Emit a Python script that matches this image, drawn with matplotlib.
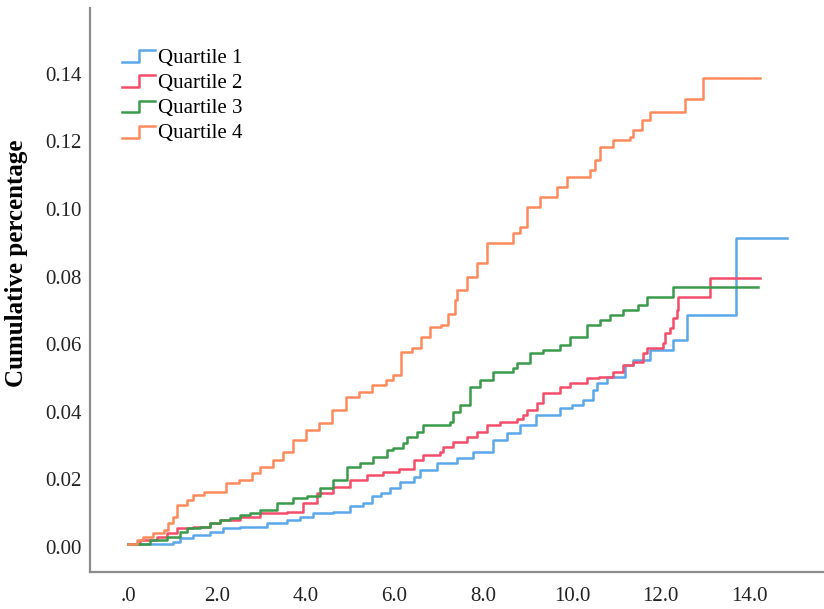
import matplotlib.pyplot as plt
from matplotlib.lines import Line2D
from matplotlib.legend_handler import HandlerBase

# Quartile 1 (blue)
q1_t = [0, 1.0, 1.17, 1.47, 1.85, 2.14, 2.52, 3.13, 3.58, 3.87, 4.17, 4.62, 5.0, 5.3, 5.5,
        5.7, 5.9, 6.13, 6.43, 6.58, 6.96, 7.4, 7.77, 8.22, 8.53, 8.83, 9.2, 9.73, 10.0,
        10.25, 10.48, 10.56, 10.78, 11.2, 11.38, 11.76, 12.27, 12.6, 13.7, 14.84]
q1_v = [0.001, 0.0015, 0.0027, 0.0036, 0.0044, 0.0056, 0.006, 0.007, 0.008, 0.009, 0.010,
        0.0104, 0.012, 0.013, 0.015, 0.016, 0.0175, 0.0193, 0.0207, 0.0228, 0.0248, 0.0263,
        0.0281, 0.0317, 0.0337, 0.036, 0.039, 0.041, 0.042, 0.0435, 0.0464, 0.0485, 0.0503,
        0.0538, 0.0553, 0.0583, 0.0612, 0.0686, 0.0914, 0.0914]

# Quartile 2 (red)
q2_t = [0, 0.27, 0.65, 0.88, 1.1, 1.47, 1.85, 2.07, 2.52, 2.97, 3.58, 3.95, 4.25, 4.62, 5.0,
        5.38, 5.74, 6.1, 6.43, 6.65, 7.03, 7.1, 7.32, 7.63, 7.86, 8.08, 8.38, 8.76, 8.9, 8.99,
        9.21, 9.35, 9.73, 9.95, 10.34, 10.6, 10.92, 11.15, 11.37, 11.6, 11.7, 12.05, 12.1,
        12.2, 12.28, 12.36, 12.4, 13.1, 14.23]
q2_v = [0.001, 0.002, 0.003, 0.004, 0.0056, 0.006, 0.007, 0.008, 0.009, 0.010, 0.0104, 0.013,
        0.016, 0.0178, 0.0198, 0.0213, 0.0222, 0.0232, 0.0257, 0.0272, 0.0281, 0.0296, 0.031,
        0.0325, 0.034, 0.036, 0.037, 0.038, 0.039, 0.0405, 0.0426, 0.0455, 0.0473, 0.0485,
        0.050, 0.0503, 0.0518, 0.0538, 0.0547, 0.0573, 0.059, 0.0603, 0.0633, 0.0648, 0.0677,
        0.070, 0.074, 0.0796, 0.0796]

# Quartile 3 (green)
q3_t = [0, 0.5, 0.88, 1.17, 1.33, 1.62, 1.85, 2.07, 2.3, 2.52, 2.75, 2.97, 3.36, 3.72, 4.03,
        4.32, 4.62, 4.93, 5.23, 5.52, 5.83, 5.97, 6.2, 6.28, 6.5, 6.65, 7.25, 7.32, 7.48, 7.7,
        7.93, 8.22, 8.67, 8.76, 9.05, 9.35, 9.73, 9.95, 10.34, 10.63, 10.86, 11.15, 11.49,
        11.7, 12.27, 14.19]
q3_v = [0.001, 0.002, 0.003, 0.0044, 0.0056, 0.006, 0.007, 0.008, 0.0086, 0.0095, 0.010, 0.011,
        0.013, 0.0145, 0.015, 0.0174, 0.0198, 0.0237, 0.025, 0.0266, 0.0287, 0.0293, 0.0307,
        0.0325, 0.034, 0.036, 0.037, 0.040, 0.042, 0.0473, 0.0494, 0.0518, 0.0529, 0.0544,
        0.0573, 0.0583, 0.0598, 0.0621, 0.0657, 0.0672, 0.0686, 0.070, 0.0716, 0.074, 0.0769,
        0.0769]

# Quartile 4 (orange)
q4_t = [0, 0.2, 0.34, 0.57, 0.8, 0.9, 1.0, 1.1, 1.33, 1.47, 1.7, 2.2, 2.5, 2.8, 2.97, 3.27,
        3.5, 3.72, 4.0, 4.3, 4.6, 4.9, 5.2, 5.5, 5.8, 5.97, 6.15, 6.4, 6.6, 6.8, 7.05, 7.2,
        7.36, 7.41, 7.63, 7.86, 8.08, 8.67, 8.83, 8.98, 9.28, 9.66, 9.89, 10.4, 10.52, 10.63,
        10.92, 11.3, 11.37, 11.58, 11.76, 12.55, 12.95, 14.23]
q4_v = [0.001, 0.002, 0.003, 0.004, 0.005, 0.007, 0.009, 0.0124, 0.014, 0.0154, 0.0163, 0.019,
        0.0198, 0.022, 0.0237, 0.0257, 0.028, 0.0317, 0.0346, 0.0367, 0.0405, 0.0444, 0.046,
        0.048, 0.0494, 0.051, 0.0577, 0.059, 0.0621, 0.065, 0.0657, 0.069, 0.073, 0.076, 0.080,
        0.084, 0.090, 0.093, 0.0947, 0.1006, 0.1036, 0.1065, 0.1095, 0.1115, 0.1145, 0.1183,
        0.1204, 0.1213, 0.1234, 0.1263, 0.1287, 0.1325, 0.1388, 0.1388]

labels = ['Quartile 1', 'Quartile 2', 'Quartile 3', 'Quartile 4']
colors = ['#5aa8ea', '#f34d6a', '#3a9a4b', '#fd8a5c']
x_ticks = [0, 2, 4, 6, 8, 10, 12, 14]
x_tick_labels = ['.0', '2.0', '4.0', '6.0', '8.0', '10.0', '12.0', '14.0']
y_ticks = [0.00, 0.02, 0.04, 0.06, 0.08, 0.10, 0.12, 0.14]


class StepHandler(HandlerBase):
    # legend handle drawn as a small step, like the SPSS output
    def create_artists(self, legend, orig_handle, xdescent, ydescent, width, height, fontsize, trans):
        x0 = -xdescent
        xs = [x0, x0 + width * 0.52, x0 + width * 0.52, x0 + width]
        ys = [-ydescent + height * 0.05, -ydescent + height * 0.05,
              -ydescent + height * 0.85, -ydescent + height * 0.85]
        line = Line2D(xs, ys, color=orig_handle.get_color(), lw=orig_handle.get_linewidth())
        line.set_transform(trans)
        return [line]


plt.rcParams['font.family'] = ['Liberation Serif', 'DejaVu Serif']

fig = plt.figure(figsize=(8.24, 6.09), dpi=100)
ax = fig.add_axes([90 / 824, 37 / 609, 734 / 824, 564 / 609])

handles = []
for t, v, lab, c in zip([q1_t, q2_t, q3_t, q4_t], [q1_v, q2_v, q3_v, q4_v], labels, colors):
    ln, = ax.plot(t, v, drawstyle='steps-post', color=c, lw=1.8, label=lab)
    handles.append(ln)

ax.set_xlim(-0.86, 15.68)
ax.set_ylim(-0.0074, 0.1595)
ax.set_xticks(x_ticks)
ax.set_xticklabels(x_tick_labels)
ax.set_yticks(y_ticks)
ax.set_yticklabels(['%.2f' % y for y in y_ticks])
ax.tick_params(axis='both', length=0, labelsize=15, colors='#222222')
ax.tick_params(axis='x', pad=10.5)
ax.tick_params(axis='y', pad=6)

for s in ['top', 'right']:
    ax.spines[s].set_visible(False)
for s in ['left', 'bottom']:
    ax.spines[s].set_color('#8c8c8c')
    ax.spines[s].set_linewidth(1.6)

ax.set_ylabel('Cumulative percentage', fontsize=18, fontweight='bold')
ax.yaxis.set_label_coords(-0.0845, 0.548)

ax.legend(handles=handles, handler_map={Line2D: StepHandler()}, loc='upper left',
          bbox_to_anchor=(0.0435, 0.929), frameon=False, fontsize=15, borderpad=0,
          borderaxespad=0, handlelength=1.6, handletextpad=0.15, labelspacing=0.27)

fig.savefig('out.png', dpi=100)
